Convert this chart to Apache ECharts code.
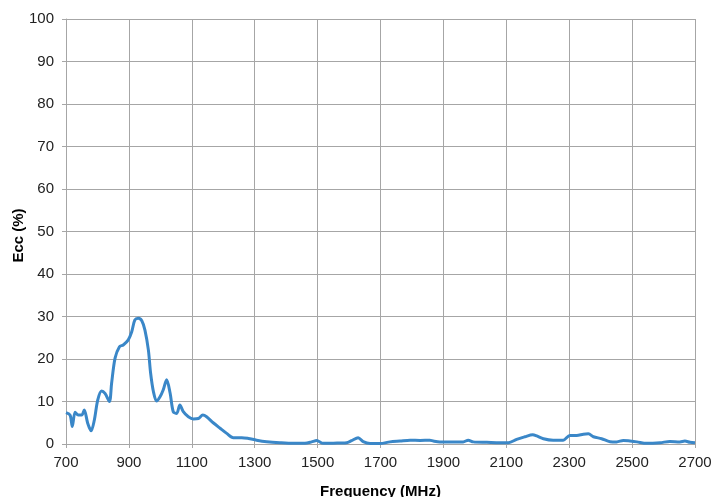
<!DOCTYPE html>
<html>
<head>
<meta charset="utf-8">
<script src="https://cdn.jsdelivr.net/npm/echarts@6/dist/echarts.min.js"></script>
<style>html,body{margin:0;padding:0;background:#fff}#c{width:713px;height:497px}</style>
</head>
<body>
<div id="c"></div>
<script>
const freqs = [700,713,720,729,739,750,758,769,780,790,801,813,824,838,845,856,870,882,898,909,919,930,941,951,962,969,978,988,999,1009,1020,1031,1041,1052,1062,1073,1089,1105,1121,1135,1147,1168,1190,1211,1232,1259,1280,1306,1338,1380,1423,1460,1481,1497,1518,1550,1592,1608,1629,1645,1667,1698,1730,1762,1794,1826,1857,1868,1889,1932,1963,1979,1995,2038,2080,2107,2133,2159,2184,2197,2218,2249,2281,2302,2324,2345,2361,2377,2403,2430,2451,2472,2493,2515,2546,2589,2620,2652,2668,2684,2700];
const ecc = [7.4,6.8,4.1,7.5,6.8,6.8,8.0,4.9,3.1,5.6,10.4,12.5,11.9,10.0,14.3,20.2,22.9,23.3,24.5,26.4,29.2,29.6,29.0,26.8,22.1,16.7,12.3,10.1,11.1,12.7,15.1,12.0,7.6,7.2,9.2,7.6,6.4,5.9,6.0,6.8,6.4,5.0,3.7,2.5,1.5,1.5,1.3,0.9,0.55,0.3,0.15,0.2,0.5,0.8,0.15,0.2,0.3,0.8,1.5,0.55,0.1,0.1,0.5,0.7,0.9,0.85,0.9,0.7,0.5,0.5,0.5,0.9,0.5,0.4,0.3,0.3,1.1,1.7,2.2,1.9,1.25,0.9,0.9,2.0,2.0,2.3,2.4,1.7,1.25,0.55,0.5,0.85,0.7,0.5,0.15,0.3,0.6,0.5,0.7,0.4,0.3];
const xTitle = 'Frequency (MHz)';
const yTitle = 'Ecc (%)';

const chart = echarts.init(document.getElementById('c'));
const gridColor = '#a6a6a6';
const labelStyle = {color:'#222', fontFamily:'Liberation Sans', fontSize:15};
chart.setOption({
  animation:false,
  grid:{left:66,right:18,top:19,bottom:53,containLabel:false,outerBoundsMode:'none'},
  xAxis:{
    type:'value', min:700, max:2700, interval:200,
    name:xTitle, nameLocation:'middle', nameGap:40, nameMoveOverlap:false,
    nameTextStyle:{color:'#000',fontFamily:'Liberation Sans',fontSize:15,fontWeight:'bold'},
    axisLine:{show:true,lineStyle:{color:gridColor,width:1}},
    axisTick:{show:true,length:4,lineStyle:{color:gridColor}},
    axisLabel:Object.assign({margin:11, formatter:v=>String(v)},labelStyle),
    splitLine:{show:true,lineStyle:{color:gridColor,width:1}}
  },
  yAxis:{
    type:'value', min:0, max:100, interval:10,
    name:yTitle, nameLocation:'middle', nameGap:40, nameRotate:90, nameMoveOverlap:false,
    nameTextStyle:{color:'#000',fontFamily:'Liberation Sans',fontSize:15,fontWeight:'bold',padding:[0,8,0,0]},
    axisLine:{show:true,lineStyle:{color:gridColor,width:1}},
    axisTick:{show:true,length:4,lineStyle:{color:gridColor}},
    axisLabel:Object.assign({margin:12},labelStyle),
    splitLine:{show:true,lineStyle:{color:gridColor,width:1}}
  },
  series:[{
    type:'line',
    data:freqs.map((f,i)=>[f,ecc[i]]),
    smooth:0.3,
    showSymbol:false,
    lineStyle:{color:'#3a87c8',width:3},
    itemStyle:{color:'#3a87c8'}
  }]
});
</script>
</body>
</html>
